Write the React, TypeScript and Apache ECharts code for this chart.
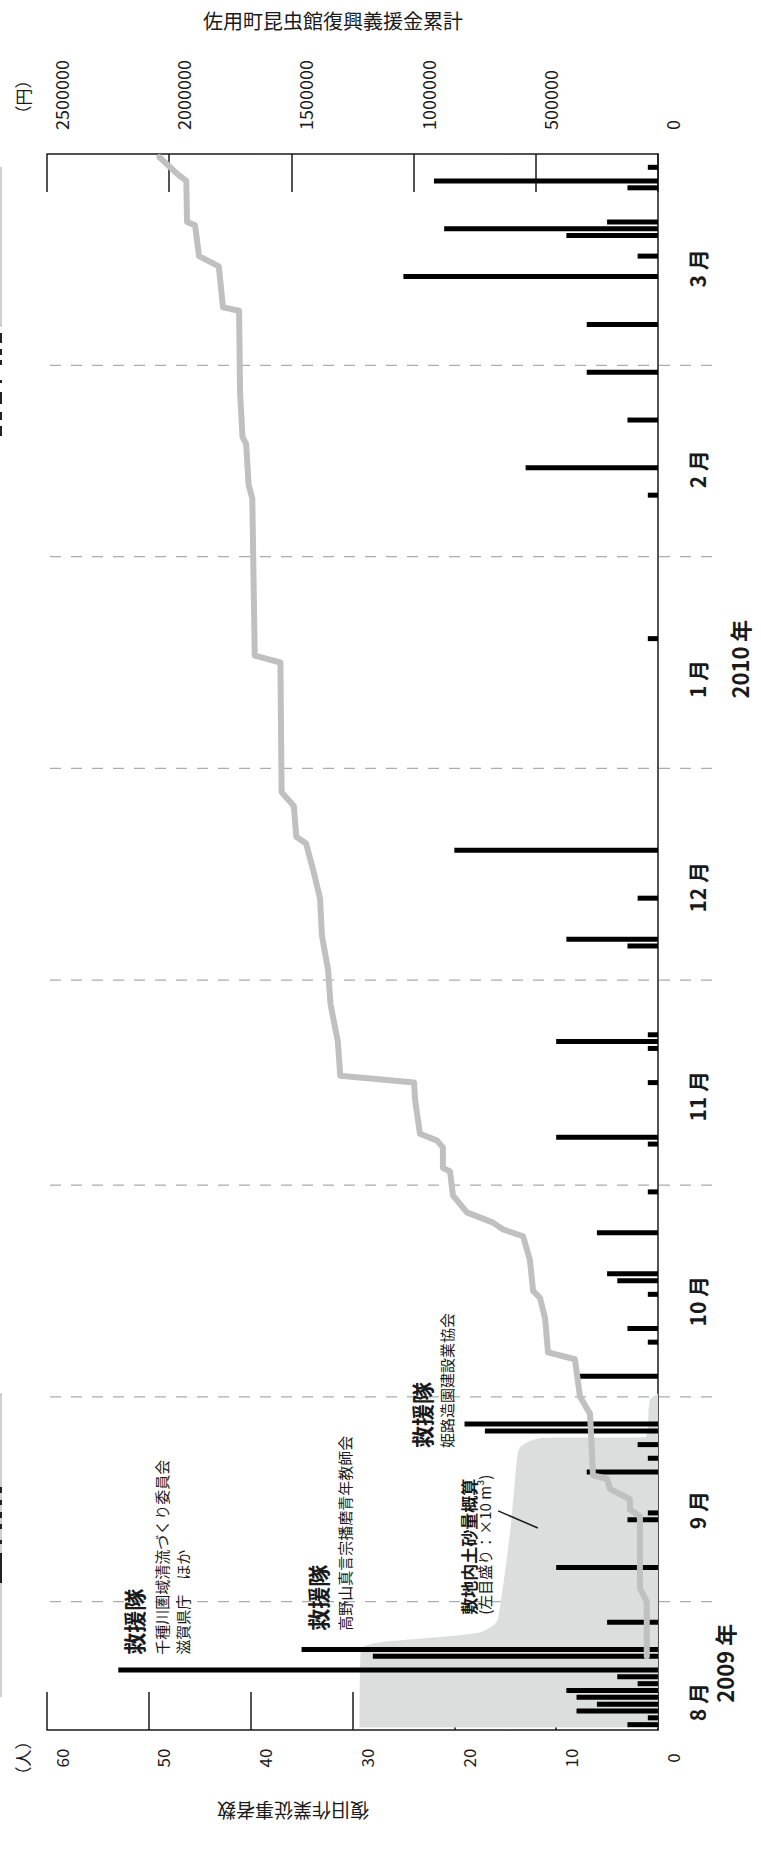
import React, { useEffect, useRef } from 'react';
import * as echarts from 'echarts';

// ---- axis ranges ----
const RANGE_START = '2009-08-13 14:00';
const RANGE_END = '2010-03-31 14:00';

// ---- daily number of recovery workers (人) ----
const barDates = [
  '2009-08-14', '2009-08-15', '2009-08-16', '2009-08-17', '2009-08-18', '2009-08-19',
  '2009-08-20', '2009-08-21', '2009-08-22', '2009-08-24', '2009-08-25', '2009-08-29',
  '2009-09-06', '2009-09-13', '2009-09-14', '2009-09-20', '2009-09-22', '2009-09-24', '2009-09-26', '2009-09-27',
  '2009-10-04', '2009-10-09', '2009-10-11', '2009-10-16', '2009-10-18', '2009-10-19', '2009-10-25', '2009-10-31',
  '2009-11-07', '2009-11-08', '2009-11-16', '2009-11-21', '2009-11-22', '2009-11-23',
  '2009-12-06', '2009-12-07', '2009-12-13', '2009-12-20',
  '2010-01-20', '2010-02-10', '2010-02-14', '2010-02-21', '2010-02-28', '2010-03-07',
  '2010-03-14', '2010-03-17', '2010-03-20', '2010-03-21', '2010-03-22', '2010-03-27', '2010-03-28', '2010-03-30',
];
const barPeople = [
  3, 1, 8, 6, 8, 9,
  2, 4, 53, 28, 35, 5,
  10, 3, 1, 7, 1, 2, 17, 19,
  8, 1, 3, 1, 4, 5, 6, 1,
  1, 10, 1, 1, 10, 1,
  3, 9, 2, 20,
  1, 1, 13, 3, 7, 7,
  25, 2, 9, 21, 5, 3, 22, 1,
];

// ---- cumulative donations (円) ----
const donationDates = [
  '2009-08-24 00:00', '2009-09-01 00:00', '2009-09-03 00:00', '2009-09-13 12:00', '2009-09-14 12:00',
  '2009-09-16 00:00', '2009-09-17 12:00', '2009-09-19 00:00', '2009-09-19 12:00', '2009-09-28 12:00',
  '2009-10-01 00:00', '2009-10-06 12:00', '2009-10-07 12:00', '2009-10-12 12:00', '2009-10-15 12:00',
  '2009-10-16 12:00', '2009-10-21 00:00', '2009-10-24 12:00', '2009-10-25 12:00', '2009-10-26 12:00',
  '2009-10-28 00:00', '2009-10-30 12:00', '2009-11-03 00:00', '2009-11-03 12:00', '2009-11-06 12:00',
  '2009-11-07 12:00', '2009-11-08 12:00', '2009-11-11 12:00', '2009-11-13 12:00', '2009-11-16 00:00',
  '2009-11-17 00:00', '2009-11-22 00:00', '2009-11-27 12:00', '2009-12-02 12:00', '2009-12-07 12:00',
  '2009-12-13 00:00', '2009-12-17 00:00', '2009-12-21 00:00', '2009-12-22 00:00', '2009-12-26 12:00',
  '2009-12-28 12:00', '2010-01-16 12:00', '2010-01-17 12:00', '2010-02-09 12:00', '2010-02-11 12:00',
  '2010-02-17 12:00', '2010-02-18 12:00', '2010-02-25 00:00', '2010-03-09 00:00', '2010-03-09 12:00',
  '2010-03-15 12:00', '2010-03-17 00:00', '2010-03-21 12:00', '2010-03-22 00:00', '2010-03-28 00:00',
  '2010-03-29 00:00', '2010-03-31 12:00',
];
const donationYen = [
  46000, 46000, 74000, 74000, 115000,
  115000, 196000, 209000, 266000, 278000,
  319000, 340000, 450000, 462000, 483000,
  511000, 524000, 552000, 634000, 675000,
  782000, 839000, 851000, 880000, 880000,
  904000, 974000, 986000, 994000, 998000,
  1300000, 1310000, 1340000, 1350000, 1375000,
  1383000, 1410000, 1440000, 1480000, 1490000,
  1540000, 1545000, 1650000, 1660000, 1675000,
  1685000, 1700000, 1710000, 1714000, 1780000,
  1797000, 1878000, 1894000, 1927000, 1930000,
  1966000, 2040000,
];

// ---- estimated soil volume on the site (×10 m³, left scale) ----
const soilDates = [
  '2009-08-13 14:00', '2009-08-25 00:00', '2009-08-26 00:00', '2009-08-26 18:00', '2009-08-27 12:00',
  '2009-08-28 12:00', '2009-08-29 12:00', '2009-09-11 12:00', '2009-09-21 00:00', '2009-09-23 12:00',
  '2009-09-24 12:00', '2009-09-25 00:00', '2009-09-25 02:00', '2009-09-30 12:00', '2009-10-01 12:00',
];
const soilVolume = [29.3, 29.2, 27.5, 22, 17.5, 16.2, 15.7, 14.5, 13.9, 13.6, 12.6, 11.2, 1.3, 0.8, 0];

// ---- month boundaries and labels ----
const monthStarts = ['2009-09-01', '2009-10-01', '2009-11-01', '2009-12-01', '2010-01-01', '2010-02-01', '2010-03-01'];
const monthLabels = ['8 月', '9 月', '10 月', '11 月', '12 月', '1 月', '2 月', '3 月'];
const monthLabelDates = [
  '2009-08-17 07:00', '2009-09-14 10:00', '2009-10-15 00:00', '2009-11-14 00:00',
  '2009-12-14 14:00', '2010-01-14 02:00', '2010-02-13 19:00', '2010-03-15 05:00',
];
const yearLabels = ['2009 年', '2010 年'];
const yearLabelDates = ['2009-08-23 00:00', '2010-01-17 00:00'];

// ---- annotations (anchored in data coordinates: value on left scale, date) ----
const noteTexts = [
  '救援隊', '千種川圏域清流づくり委員会', '滋賀県庁　ほか',
  '救援隊', '高野山真言宗播磨青年教師会',
  '救援隊', '姫路造園建設業協会',
  '敷地内土砂量概算', '(左目盛り：×10 m³)',
];
const noteValues = [51.6, 48.8, 46.7, 33.5, 30.8, 23.3, 20.8, 18.6, 17.0];
const noteDates = [
  '2009-08-24 06:00', '2009-08-24 06:00', '2009-08-24 06:00',
  '2009-08-27 18:00', '2009-08-27 18:00',
  '2009-09-23 12:00', '2009-09-23 12:00',
  '2009-08-30 02:00', '2009-08-30 02:00',
];
const noteBold = [true, false, false, true, false, true, false, true, false];

const FONT = '"Noto Sans CJK JP", "Noto Sans", sans-serif';
const INK = '#1a1a1a';

export default function App() {
  const ref = useRef<HTMLDivElement>(null);

  useEffect(() => {
    const chart = echarts.init(ref.current!, null, { renderer: 'svg' });

    const option: any = {
      animation: false,
      backgroundColor: '#ffffff',
      grid: { left: 47, right: 103, top: 154, bottom: 126, containLabel: false },
      xAxis: [
        {
          type: 'value', min: 0, max: 60, interval: 10, inverse: true, position: 'bottom',
          axisLine: { show: true, onZero: false, lineStyle: { color: INK, width: 1.5 } },
          axisTick: { show: true, inside: true, length: 38, lineStyle: { color: INK, width: 1.5 } },
          splitLine: { show: false },
          axisLabel: {
            rotate: 90, margin: 28, align: 'center', verticalAlign: 'top', lineHeight: 28,
            fontSize: 17, color: INK, fontFamily: FONT,
          },
        },
        {
          type: 'value', min: 0, max: 2500000, interval: 500000, inverse: true, position: 'top',
          axisLine: { show: true, onZero: false, lineStyle: { color: INK, width: 1.5 } },
          axisTick: { show: true, inside: true, length: 38, lineStyle: { color: INK, width: 1.5 } },
          splitLine: { show: false },
          axisLabel: {
            rotate: -90, margin: 24, align: 'left', verticalAlign: 'top', lineHeight: 28,
            fontSize: 18, color: INK, fontFamily: FONT,
            formatter: (v: number) => String(v),
          },
        },
      ],
      yAxis: {
        type: 'time', min: RANGE_START, max: RANGE_END, position: 'right',
        axisLine: { show: true, onZero: false, lineStyle: { color: INK, width: 1.5 } },
        axisTick: { show: false },
        axisLabel: { show: false },
        splitLine: { show: false },
      },
      series: [
        {
          name: '敷地内土砂量概算', type: 'line', xAxisIndex: 0, yAxisIndex: 0,
          data: soilDates.map((d, i) => [soilVolume[i], d]),
          showSymbol: false, smooth: 0.25, z: 1,
          lineStyle: { width: 0, color: '#dcdddd' },
          areaStyle: { color: '#dcdddd', opacity: 1 },
        },
        {
          name: '復旧作業従事者数', type: 'bar', xAxisIndex: 0, yAxisIndex: 0,
          data: barDates.map((d, i) => [barPeople[i], d]),
          barWidth: 5, z: 2,
          itemStyle: { color: '#000000' },
        },
        {
          name: '佐用町昆虫館復興義援金累計', type: 'line', xAxisIndex: 1, yAxisIndex: 0,
          data: donationDates.map((d, i) => [donationYen[i], d]),
          showSymbol: false, z: 3,
          lineStyle: { color: '#c0c0c0', width: 6, join: 'round', cap: 'round' },
        },
      ],
    };
    chart.setOption(option);

    const px = (v: number, d: string): number[] =>
      chart.convertToPixel({ xAxisIndex: 0, yAxisIndex: 0 }, [v, d]) as number[];
    const axisX = px(0, RANGE_START)[0];

    const elements: any[] = [];

    // month boundary dashed lines
    monthStarts.forEach((d) => {
      const y = px(0, d)[1];
      elements.push({
        type: 'line', z: 0, silent: true,
        shape: { x1: 50, y1: y, x2: axisX + 64, y2: y },
        style: { stroke: '#acacac', lineWidth: 1.3, lineDash: [11, 10] },
      });
    });

    // month labels
    monthLabels.forEach((t, i) => {
      const y = px(0, monthLabelDates[i])[1];
      elements.push({
        type: 'text', x: axisX + 39, y, rotation: Math.PI / 2, z: 5,
        style: { text: t, font: `bold 21px ${FONT}`, fill: INK, align: 'center', verticalAlign: 'middle' },
      });
    });
    yearLabels.forEach((t, i) => {
      const y = px(0, yearLabelDates[i])[1];
      elements.push({
        type: 'text', x: axisX + (i === 0 ? 66 : 81), y, rotation: Math.PI / 2, z: 5,
        style: { text: t, font: `bold 22px ${FONT}`, fill: INK, align: 'center', verticalAlign: 'middle' },
      });
    });

    // annotations
    noteTexts.forEach((t, i) => {
      const [x, y] = px(noteValues[i], noteDates[i]);
      const size = noteBold[i] ? (t === '救援隊' ? 22 : 17) : 15;
      elements.push({
        type: 'text', x, y, rotation: Math.PI / 2, z: 5,
        style: {
          text: t, font: `${noteBold[i] ? 'bold ' : ''}${size}px ${FONT}`, fill: INK,
          align: 'left', verticalAlign: 'middle',
        },
      });
    });
    // leader line for soil annotation
    const p1 = px(15.7, '2009-09-14 07:00');
    const p2 = px(11.8, '2009-09-11 19:00');
    elements.push({
      type: 'line', z: 5, shape: { x1: p1[0], y1: p1[1], x2: p2[0], y2: p2[1] },
      style: { stroke: INK, lineWidth: 1.5 },
    });

    // titles and units
    elements.push({
      type: 'text', x: 333, y: 20, z: 5,
      style: { text: '佐用町昆虫館復興義援金累計', font: `20px ${FONT}`, fill: INK, align: 'center', verticalAlign: 'middle' },
    });
    elements.push({
      type: 'text', x: 22, y: 97, rotation: Math.PI / 2, z: 5,
      style: { text: '（円）', font: `17px ${FONT}`, fill: INK, align: 'center', verticalAlign: 'middle' },
    });
    elements.push({
      type: 'text', x: 22, y: 1758, rotation: Math.PI / 2, z: 5,
      style: { text: '（人）', font: `17px ${FONT}`, fill: INK, align: 'center', verticalAlign: 'middle' },
    });
    elements.push({
      type: 'text', x: 293, y: 1811, rotation: Math.PI, z: 5,
      style: { text: '復旧作業従事者数', font: `19px ${FONT}`, fill: INK, align: 'center', verticalAlign: 'middle' },
    });

    // clipped fragments at the left page edge
    elements.push({ type: 'rect', z: 0, shape: { x: 0, y: 167, width: 2, height: 160 }, style: { fill: '#cfcfcf' } });
    elements.push({ type: 'rect', z: 0, shape: { x: 0, y: 1393, width: 2, height: 304 }, style: { fill: '#cfcfcf' } });
    [[333, 10], [349, 6], [360, 5], [380, 3], [392, 12], [412, 8], [426, 10]].forEach(([y, h]) =>
      elements.push({ type: 'rect', z: 0, shape: { x: 0, y, width: 2, height: h }, style: { fill: '#222' } }));
    [[1487, 6], [1500, 5], [1512, 6], [1524, 5], [1540, 4], [1553, 30]].forEach(([y, h]) =>
      elements.push({ type: 'rect', z: 0, shape: { x: 0, y, width: 2, height: h }, style: { fill: '#222' } }));

    chart.setOption({ graphic: { elements } });

    return () => chart.dispose();
  }, []);

  return (
    <div
      ref={ref}
      style={{ position: 'absolute', left: 0, top: 0, width: 761, height: 1856, background: '#fff' }}
    />
  );
}
